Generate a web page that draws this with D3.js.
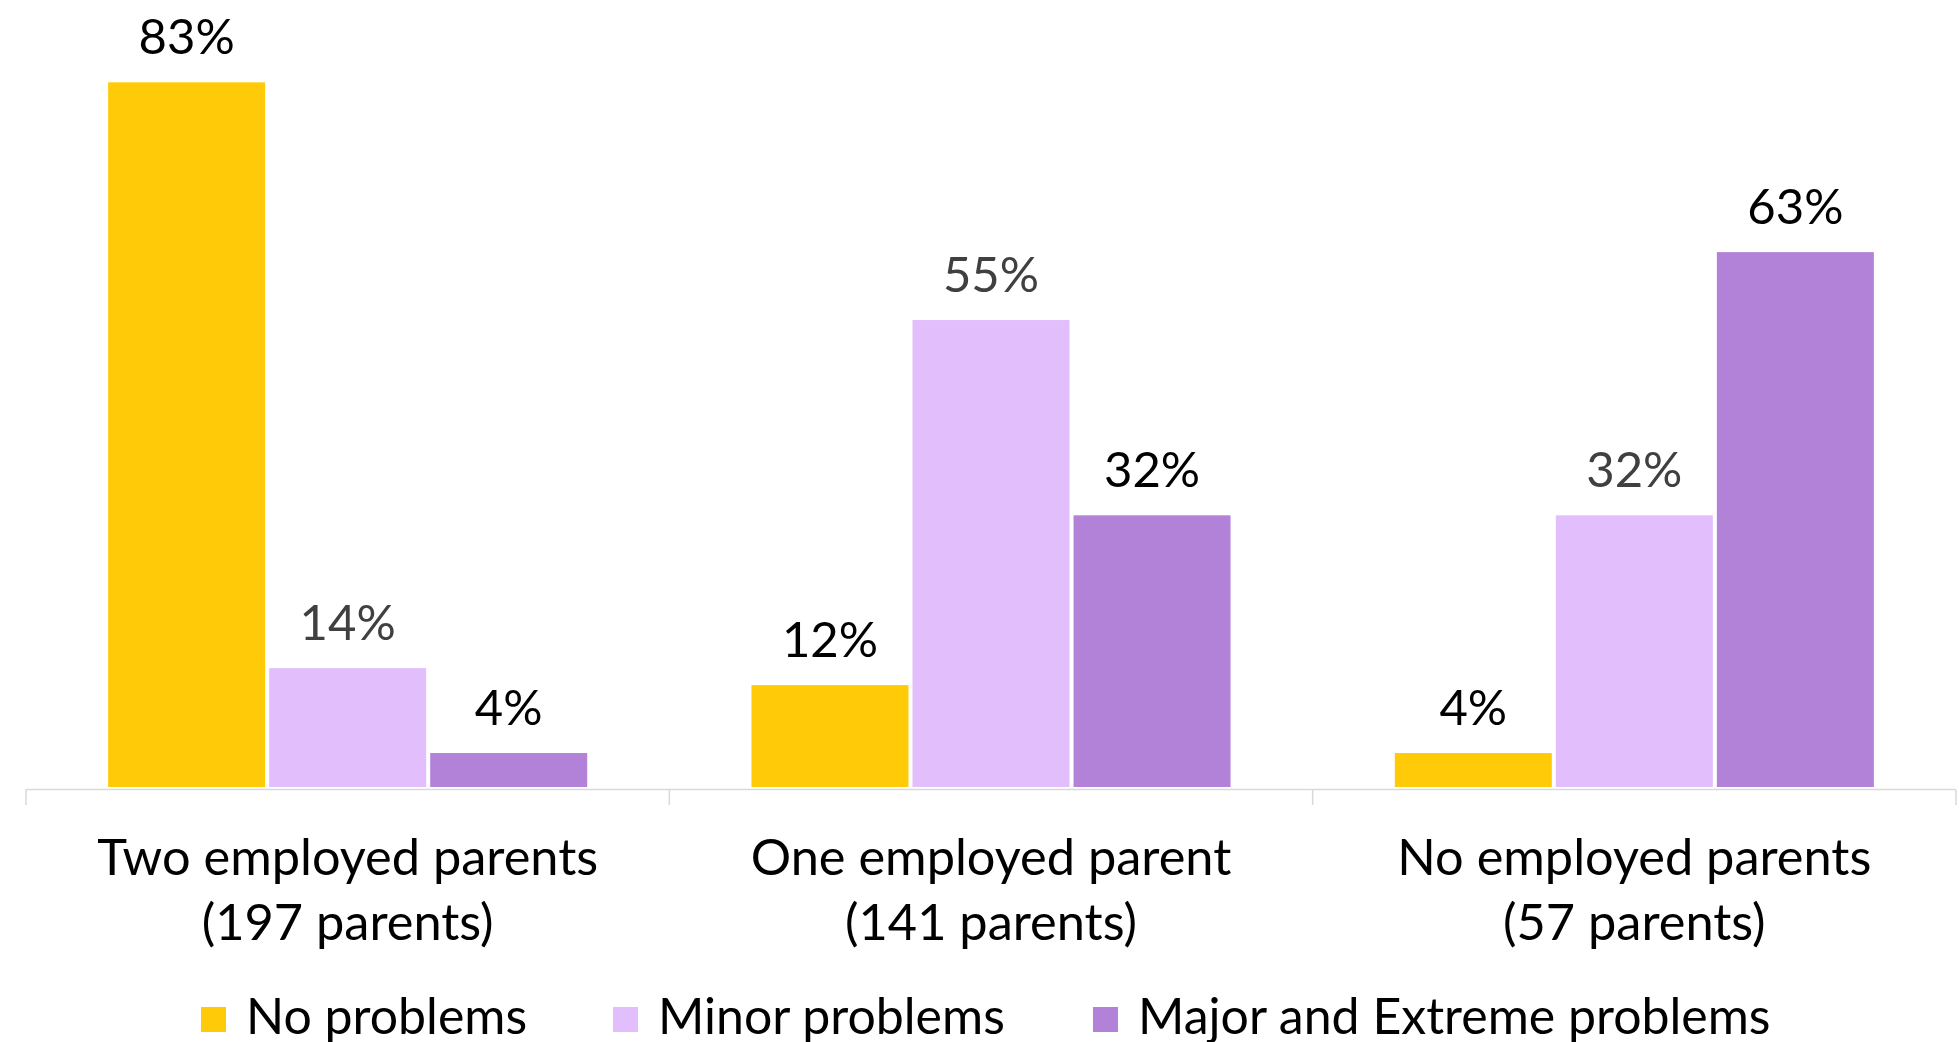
<!DOCTYPE html>
<html>
<head>
<meta charset="utf-8">
<script src="https://cdn.jsdelivr.net/npm/d3@7"></script>
<style>
  body { margin: 0; background: #fff; }
  text { font-family: Lato, "Open Sans", sans-serif; }
</style>
</head>
<body>
<script>
var width = 1959,
    height = 1042;

// data
var groups = ["Two employed parents", "One employed parent", "No employed parents"];
var groupCounts = ["(197 parents)", "(141 parents)", "(57 parents)"];
var series = ["No problems", "Minor problems", "Major and Extreme problems"];
var noProblems = [83, 12, 4];
var minorProblems = [14, 55, 32];
var majorProblems = [4, 32, 63];

var colors = ["#ffca08", "#e3befc", "#b282d9"];
var labelColors = ["#000", "#404040", "#000"];

var values = [noProblems, minorProblems, majorProblems];

var svg = d3.select("body").append("svg")
    .attr("width", width)
    .attr("height", height);

var x0 = d3.scaleBand()
    .domain(groups)
    .range([26, 1956])
    .padding(0);

var x1 = d3.scaleBand()
    .domain(series)
    .range([0, x0.bandwidth()])
    .paddingInner(0.025)
    .paddingOuter(0.51);

var y = d3.scaleLinear()
    .domain([0, 100])
    .range([787, -62]);

var g = svg.selectAll("g.group")
    .data(groups)
  .enter().append("g")
    .attr("class", "group")
    .attr("transform", function(d) { return "translate(" + x0(d) + ",0)"; });

g.selectAll("rect")
    .data(function(d, i) {
      return series.map(function(s, j) { return {s: s, j: j, v: values[j][i]}; });
    })
  .enter().append("rect")
    .attr("x", function(d) { return x1(d.s); })
    .attr("width", x1.bandwidth())
    .attr("y", function(d) { return y(d.v); })
    .attr("height", function(d) { return y(0) - y(d.v); })
    .attr("fill", function(d) { return colors[d.j]; });

g.selectAll("text.val")
    .data(function(d, i) {
      return series.map(function(s, j) { return {s: s, j: j, v: values[j][i]}; });
    })
  .enter().append("text")
    .attr("class", "val")
    .attr("x", function(d) { return x1(d.s) + x1.bandwidth() / 2; })
    .attr("y", function(d) { return y(d.v) - 28; })
    .attr("text-anchor", "middle")
    .attr("font-size", 49)
    .attr("fill", function(d) { return labelColors[d.j]; })
    .text(function(d) { return d.v + "%"; });

// axis
var axisY = 789.5;
svg.append("line")
    .attr("x1", x0.range()[0]).attr("x2", x0.range()[1])
    .attr("y1", axisY).attr("y2", axisY)
    .attr("stroke", "#d9d9d9").attr("stroke-width", 1.5);

var ticks = groups.map(function(d) { return x0(d); }).concat([x0.range()[1]]);
svg.selectAll("line.tick")
    .data(ticks)
  .enter().append("line")
    .attr("class", "tick")
    .attr("x1", function(d) { return d; }).attr("x2", function(d) { return d; })
    .attr("y1", axisY).attr("y2", 805)
    .attr("stroke", "#d9d9d9").attr("stroke-width", 1.5);

var cat = svg.selectAll("text.cat")
    .data(groups)
  .enter().append("text")
    .attr("class", "cat")
    .attr("text-anchor", "middle")
    .attr("font-size", 50.5)
    .attr("fill", "#000");
cat.append("tspan")
    .attr("x", function(d) { return x0(d) + x0.bandwidth() / 2; })
    .attr("y", 875)
    .text(function(d) { return d; });
cat.append("tspan")
    .attr("x", function(d) { return x0(d) + x0.bandwidth() / 2; })
    .attr("y", 940)
    .text(function(d, i) { return groupCounts[i]; });

// legend
var legendX = [201, 613, 1093];
var leg = svg.selectAll("g.legend")
    .data(series)
  .enter().append("g")
    .attr("class", "legend")
    .attr("transform", function(d, i) { return "translate(" + legendX[i] + ",1007)"; });
leg.append("rect")
    .attr("width", 25).attr("height", 25)
    .attr("fill", function(d, i) { return colors[i]; });
leg.append("text")
    .attr("x", 45)
    .attr("y", 27)
    .attr("font-size", 50)
    .attr("fill", "#000")
    .text(function(d) { return d; });
</script>
</body>
</html>
